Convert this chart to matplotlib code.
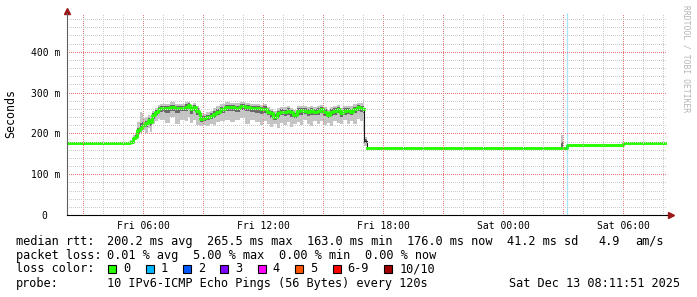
import numpy as np
import pandas as pd
import matplotlib
matplotlib.use('Agg')
import matplotlib.pyplot as plt
import matplotlib.dates as mdates
from matplotlib.patches import Rectangle
from matplotlib.ticker import MultipleLocator, FuncFormatter

# sample times, hours since Fri 2025-12-12 00:00
hours = [2.198, 5.35, 5.5, 5.6, 5.7, 5.85, 5.95, 6.0, 6.1, 6.25, 6.35, 6.45, 6.6, 6.75, 6.85,
         7.1, 7.35, 7.6, 7.85, 8.1, 8.25, 8.35, 8.5, 8.65, 8.8, 8.85, 9.0, 9.15, 9.35, 9.5,
         9.65, 9.85, 10.1, 10.35, 10.6, 10.85, 11.1, 11.35, 11.6, 11.85, 12.0, 12.2, 12.35,
         12.5, 12.7, 12.85, 13.0, 13.2, 13.35, 13.5, 13.7, 13.85, 14.0, 14.2, 14.35, 14.5,
         14.7, 14.85, 15.0, 15.2, 15.35, 15.5, 15.7, 15.85, 16.0, 16.2, 16.35, 16.5, 16.7,
         16.85, 17.0, 17.05, 17.2, 26.9, 27.0, 27.2, 30.0, 32.12]

# median rtt (ms)
median = [177, 180, 189, 192, 208, 212, 218, 220, 225, 233, 229, 245, 253, 259, 261,
          262, 264, 261, 262, 265, 269, 259, 265, 256, 249, 235, 237, 241, 243, 247,
          253, 259, 264, 265, 262, 267, 265, 262, 262, 259, 260, 253, 249,
          241, 249, 253, 252, 255, 252, 245, 255, 257, 255, 253, 257, 253,
          255, 260, 253, 245, 253, 255, 260, 249, 255, 257, 253, 260, 265,
          261, 260, 181, 163, 163, 164, 171, 177, 177]

# smoke, light outer band (ms)
outer_lo = [177, 178, 182, 184, 196, 200, 205, 208, 200, 212, 203, 222, 230, 236, 232,
            226, 240, 222, 234, 230, 240, 226, 232, 220, 220, 218, 220, 218, 222, 220,
            228, 230, 234, 228, 232, 238, 224, 232, 228, 220, 230, 222, 216,
            222, 214, 226, 220, 228, 216, 224, 228, 220, 232, 224, 218, 230,
            222, 230, 220, 226, 218, 230, 226, 222, 232, 224, 230, 222, 236,
            230, 205, 170, 163, 163, 164, 171, 177, 177]
outer_hi = [177, 183, 196, 200, 228, 253, 250, 238, 240, 245, 242, 255, 262, 270, 272,
            273, 276, 271, 273, 276, 278, 270, 275, 268, 262, 250, 248, 252, 256, 262,
            266, 271, 276, 275, 274, 277, 275, 272, 273, 270, 271, 264, 260,
            256, 262, 265, 264, 266, 263, 258, 266, 268, 266, 265, 268, 264,
            266, 270, 265, 258, 264, 266, 270, 262, 266, 268, 266, 271, 275,
            274, 282, 190, 163, 196, 164, 171, 177, 177]

# smoke, dark inner band (ms)
inner_lo = [177, 179, 185, 188, 200, 205, 210, 215, 216, 225, 218, 236, 244, 250, 252,
            250, 255, 250, 254, 255, 260, 248, 256, 244, 238, 229, 230, 233, 235, 238,
            244, 250, 255, 254, 252, 258, 254, 252, 250, 247, 250, 244, 238,
            234, 238, 244, 242, 246, 240, 237, 245, 246, 247, 243, 246, 245,
            244, 250, 242, 238, 243, 246, 250, 240, 246, 247, 245, 250, 256,
            252, 248, 176, 163, 163, 164, 171, 177, 177]
inner_hi = [177, 181, 192, 195, 214, 225, 228, 226, 231, 238, 235, 250, 258, 264, 266,
            268, 270, 266, 268, 271, 274, 265, 270, 262, 256, 242, 243, 246, 250, 254,
            259, 265, 270, 270, 268, 272, 270, 267, 268, 264, 266, 259, 255,
            248, 255, 259, 258, 261, 258, 251, 261, 262, 261, 259, 262, 259,
            261, 265, 259, 252, 259, 261, 265, 256, 261, 263, 259, 265, 270,
            267, 270, 186, 163, 180, 164, 171, 177, 177]

# samples with packet loss (hours) and the gap in the green median
loss_hours = [27.2]
gap_hours = [17.05]

loss_labels = ['0', '1', '2', '3', '4', '5', '6-9', '10/10']
loss_colors = ['#26ff00', '#00b8ff', '#0059ff', '#7e00ff', '#ff00ff', '#ff5500', '#ff0000', '#a10000']

rtt_stats = ['200.2 ms avg', '265.5 ms max', '163.0 ms min', '176.0 ms now', '41.2 ms sd', '4.9', 'am/s']
loss_stats = ['0.01 % avg', '5.00 % max', '0.00 % min', '0.00 % now']
probe_text = '10 IPv6-ICMP Echo Pings (56 Bytes) every 120s'
stamp_text = 'Sat Dec 13 08:11:51 2025'

plt.rcParams['font.family'] = ['DejaVu Sans Mono']

W, H = 697, 297
fig = plt.figure(figsize=(W / 100, H / 100), dpi=100)
ax = fig.add_axes([67 / W, 1 - 215 / H, 600 / W, 202 / H])

base = pd.Timestamp('2025-12-12')
x = mdates.date2num((base + pd.to_timedelta(hours, unit='h')).to_numpy())

ax.fill_between(x, outer_lo, outer_hi, step='post', color='#c4c4c4', lw=0)
ax.fill_between(x, inner_lo, inner_hi, step='post', color='#6a6a6a', lw=0)
ax.step(x, median, where='post', color='#1a1a1a', lw=0.8)

green = np.array(median, dtype=float)
green[np.isin(hours, gap_hours)] = np.nan
ax.step(x, green, where='post', color='#26ff00', lw=2.1)

for h in loss_hours:
    ax.axvline(mdates.date2num(base + pd.Timedelta(hours=h)), color='#00b8ff', alpha=0.35, lw=0.9)

ax.set_xlim(mdates.date2num(pd.Timestamp('2025-12-12 02:11:51')),
            mdates.date2num(pd.Timestamp('2025-12-13 08:11:51')))
ax.set_ylim(0, 495)

ax.xaxis.set_major_locator(mdates.HourLocator(byhour=range(0, 24, 3)))
ax.xaxis.set_minor_locator(mdates.HourLocator(byhour=[h for h in range(24) if h % 3]))


def xfmt(v, pos):
    d = mdates.num2date(v)
    return d.strftime('%a %H:%M') if d.hour % 6 == 0 else ''


ax.xaxis.set_major_formatter(FuncFormatter(xfmt))
ax.yaxis.set_major_locator(MultipleLocator(100))
ax.yaxis.set_minor_locator(MultipleLocator(20))
ax.yaxis.set_major_formatter(FuncFormatter(lambda v, p: '0  ' if v == 0 else f'{int(v)} m'))

ax.grid(which='minor', color='#cacaca', ls=(0, (1, 2)), lw=0.72, antialiased=False)
ax.grid(which='major', color='#e87474', ls=(0, (1, 2)), lw=0.72, antialiased=False)
ax.set_axisbelow(False)

ax.tick_params(which='both', length=0, labelsize=7)
ax.tick_params(axis='x', pad=4.3)
ax.tick_params(axis='y', pad=5)
for s in ['top', 'right']:
    ax.spines[s].set_visible(False)
ax.spines['left'].set_color('#606060')
ax.spines['bottom'].set_color('#000000')
ax.spines['left'].set_linewidth(0.8)
ax.spines['bottom'].set_linewidth(0.8)
ax.spines['left'].set_zorder(3)
ax.spines['bottom'].set_zorder(3)

# axis arrows
ax.plot(0, 1.01, marker='^', color='#9c1818', ms=4.5, transform=ax.transAxes, clip_on=False)
ax.plot(1.006, 0, marker='>', color='#9c1818', ms=4.5, transform=ax.transAxes, clip_on=False)

fig.text(11 / W, 1 - 114 / H, 'Seconds', rotation=90, ha='center', va='center', fontsize=8.4)
fig.text(686 / W, 1 - 5 / H, 'RRDTOOL / TOBI OETIKER', rotation=270, ha='center', va='top',
         fontsize=5.8, color='#b4b4b4')

fs = 8.6
cw = 7.17


def put(xp, yp, s, ha='left'):
    fig.text(xp / W, 1 - yp / H, s, ha=ha, va='center', fontsize=fs)


rows = [241.3, 255.3, 268.7, 283.3]
put(16, rows[0], 'median rtt:')
for xp, s in zip([107.3, 207.3, 307.3, 407.3, 507.3, 598.3, 635], rtt_stats):
    put(xp, rows[0], s)

put(16, rows[1], 'packet loss:')
for xp, s in zip([107.3, 193.3, 279.3, 365.3], loss_stats):
    put(xp, rows[1], s)

put(16, rows[2], 'loss color:')
bx = 108.3
for lab, col in zip(loss_labels, loss_colors):
    fig.add_artist(Rectangle((bx / W, 1 - 272.5 / H), 8 / W, 8 / H, transform=fig.transFigure,
                             facecolor=col, edgecolor='black', lw=0.8))
    put(bx + 15, rows[2], lab)
    bx = bx + 15 + len(lab) * cw + 15.2

put(16, rows[3], 'probe:')
put(107.3, rows[3], probe_text)
put(680, rows[3], stamp_text, ha='right')

fig.savefig('out.png', dpi=100)
